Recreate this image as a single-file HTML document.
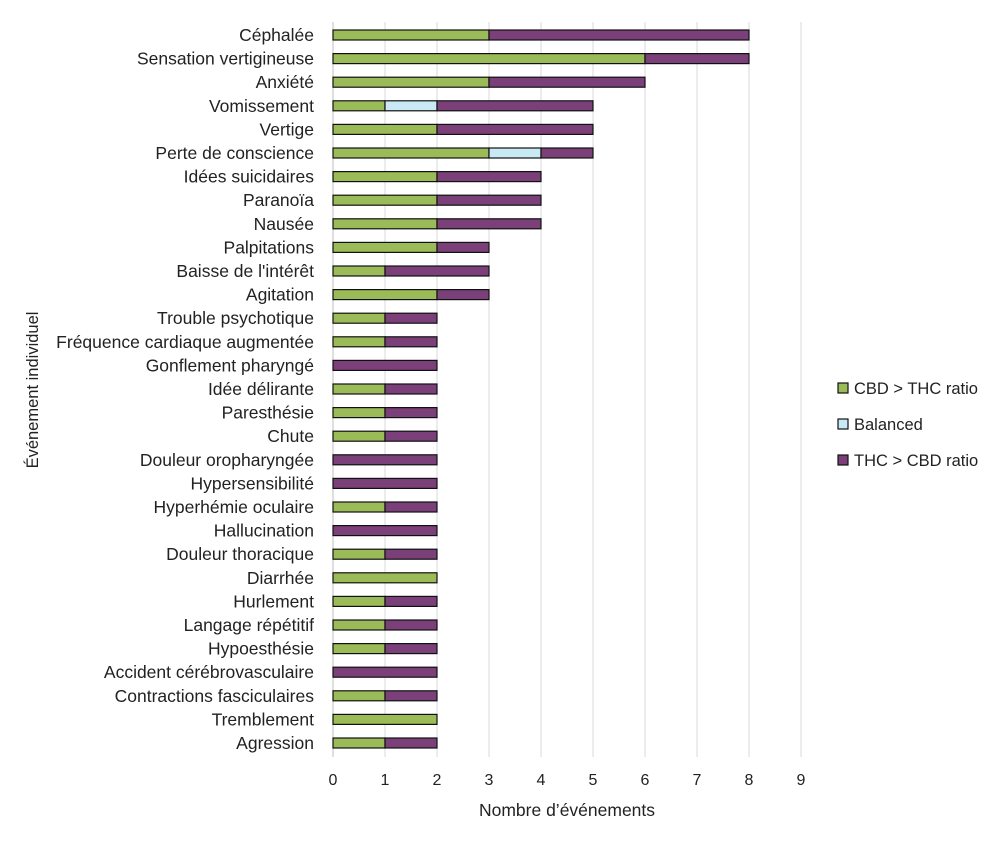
<!DOCTYPE html>
<html><head><meta charset="utf-8"><style>
body{margin:0;background:#fff;font-family:"Liberation Sans","DejaVu Sans",sans-serif;}
svg text{font-family:"Liberation Sans","DejaVu Sans",sans-serif;fill:#222;}
</style></head><body>
<svg id="chart" width="1000" height="848" viewBox="0 0 1000 848"></svg>
<script>
const categories=["Céphalée","Sensation vertigineuse","Anxiété","Vomissement","Vertige","Perte de conscience","Idées suicidaires","Paranoïa","Nausée","Palpitations","Baisse de l'intérêt","Agitation","Trouble psychotique","Fréquence cardiaque augmentée","Gonflement pharyngé","Idée délirante","Paresthésie","Chute","Douleur oropharyngée","Hypersensibilité","Hyperhémie oculaire","Hallucination","Douleur thoracique","Diarrhée","Hurlement","Langage répétitif","Hypoesthésie","Accident cérébrovasculaire","Contractions fasciculaires","Tremblement","Agression"];
const cbdValues=[3,6,3,1,2,3,2,2,2,2,1,2,1,1,0,1,1,1,0,0,1,0,1,2,1,1,1,0,1,2,1];
const balancedValues=[0,0,0,1,0,1,0,0,0,0,0,0,0,0,0,0,0,0,0,0,0,0,0,0,0,0,0,0,0,0,0];
const thcValues=[5,2,3,3,3,1,2,2,2,1,2,1,1,1,2,1,1,1,2,2,1,2,1,0,1,1,1,2,1,0,1];
const xTicks=[0,1,2,3,4,5,6,7,8,9];
const seriesNames=["CBD > THC ratio","Balanced","THC > CBD ratio"];
const colors=["#9BBB59","#C9E9F5","#7B3F7A"];
const NS="http://www.w3.org/2000/svg";
const svg=document.getElementById('chart');
const x0=333,unit=52,y0=35,step=23.6,bh=10;
const xs=v=>x0+v*unit, ys=i=>y0+i*step;
function mk(t,a){const e=document.createElementNS(NS,t);for(const k in a)e.setAttribute(k,a[k]);svg.appendChild(e);return e;}
xTicks.forEach(t=>{
  const g=mk('line',{x1:xs(t),x2:xs(t),y1:22,y2:757,stroke:t===0?'#bfbfbf':'#d9d9d9','stroke-width':1});
  
  
  const l=mk('text',{x:xs(t),y:785,'text-anchor':'middle','font-size':16});
  l.textContent=t;
  
  
});
const series=[cbdValues,balancedValues,thcValues];
categories.forEach((c,i)=>{
  const y=ys(i);
  const t=mk('text',{x:314,y:y+6,'text-anchor':'end','font-size':17.5});
  t.textContent=c;
  
  
  let acc=0;
  series.forEach((s,k)=>{
    const v=s[i];
    if(v>0){
      const r=mk('rect',{x:xs(acc),y:y-bh/2,width:xs(acc+v)-xs(acc),height:bh,fill:colors[k],stroke:'#111','stroke-width':1.2});
      
      
    }
    acc+=v;
  });
});
const xt=mk('text',{x:567,y:816,'text-anchor':'middle','font-size':17.5});
xt.textContent="Nombre d’événements";


const yt=mk('text',{x:0,y:0,'text-anchor':'middle','font-size':16.5,transform:'translate(38,390) rotate(-90)'});
yt.textContent="Événement individuel";


seriesNames.forEach((n,k)=>{
  const ly=388+k*36;
  const r=mk('rect',{x:838,y:ly-5,width:10,height:10,fill:colors[k],stroke:'#111','stroke-width':1.2});
  
  
  const t=mk('text',{x:854,y:ly+6,'font-size':16.5});
  t.textContent=n;
  
  
});
</script>
</body></html>
